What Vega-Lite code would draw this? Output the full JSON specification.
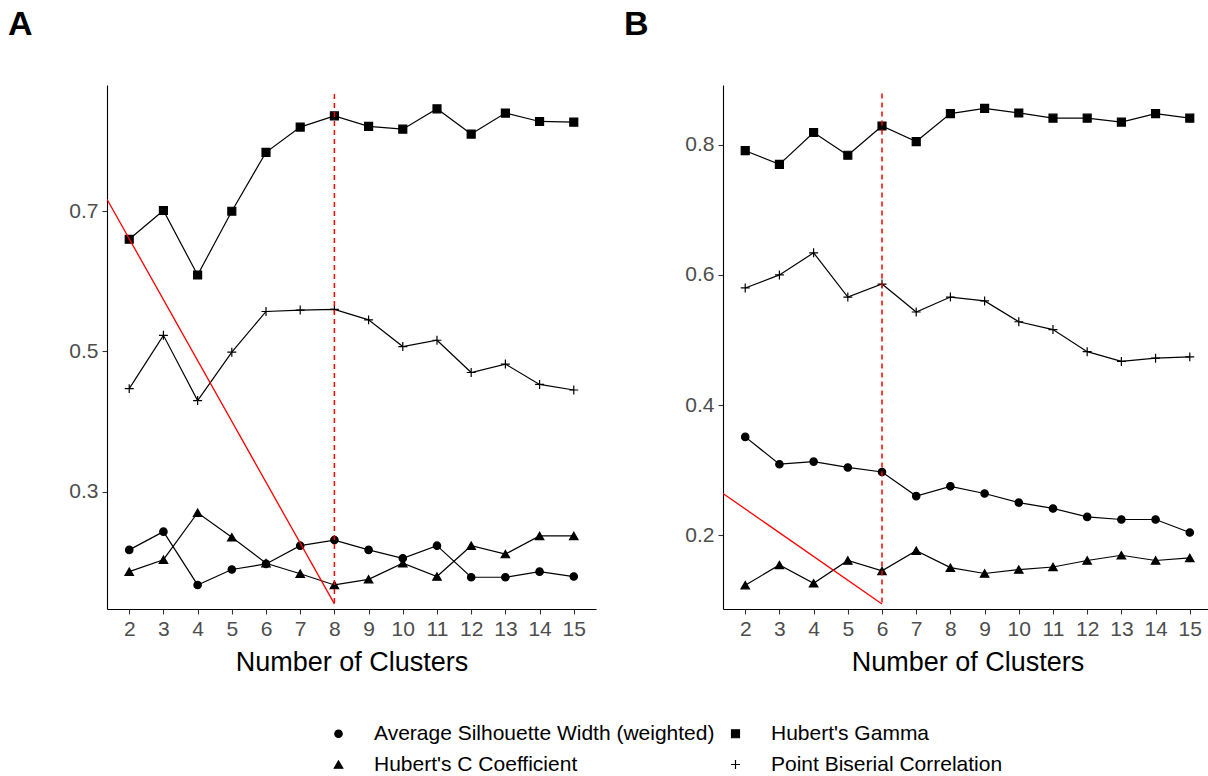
{
  "$schema": "https://vega.github.io/schema/vega-lite/v6.json",
  "padding": {"left": 8, "top": 8, "right": 0, "bottom": 0},
  "background": "white",
  "config": {
    "font": "Liberation Sans",
    "view": {"stroke": null},
    "axis": {"domainColor": "black", "domainWidth": 1.1, "tickColor": "#333333", "tickWidth": 1.1, "tickSize": 5, "labelColor": "#4d4d4d", "labelFontSize": 21, "labelFont": "Liberation Sans", "titleFont": "Liberation Sans", "titleFontSize": 27, "titleFontWeight": "normal", "titleColor": "black", "grid": false, "labelPadding": 4, "titlePadding": 10, "labelOverlap": false},
    "legend": {"labelFontSize": 21, "labelFont": "Liberation Sans", "labelColor": "black", "labelLimit": 600, "symbolStrokeColor": "black", "symbolStrokeWidth": 1.2, "columns": 2, "labelOffset": 25, "columnPadding": 10, "rowPadding": 9, "padding": 0},
    "title": {"font": "Liberation Sans"}
  },
  "datasets": {
    "A": [
      {"k": 2, "metric": "Hubert's Gamma", "value": 0.660},
      {"k": 3, "metric": "Hubert's Gamma", "value": 0.701},
      {"k": 4, "metric": "Hubert's Gamma", "value": 0.609},
      {"k": 5, "metric": "Hubert's Gamma", "value": 0.700},
      {"k": 6, "metric": "Hubert's Gamma", "value": 0.784},
      {"k": 7, "metric": "Hubert's Gamma", "value": 0.820},
      {"k": 8, "metric": "Hubert's Gamma", "value": 0.836},
      {"k": 9, "metric": "Hubert's Gamma", "value": 0.821},
      {"k": 10, "metric": "Hubert's Gamma", "value": 0.817},
      {"k": 11, "metric": "Hubert's Gamma", "value": 0.846},
      {"k": 12, "metric": "Hubert's Gamma", "value": 0.810},
      {"k": 13, "metric": "Hubert's Gamma", "value": 0.840},
      {"k": 14, "metric": "Hubert's Gamma", "value": 0.828},
      {"k": 15, "metric": "Hubert's Gamma", "value": 0.827},
      {"k": 2, "metric": "Point Biserial Correlation", "value": 0.447},
      {"k": 3, "metric": "Point Biserial Correlation", "value": 0.523},
      {"k": 4, "metric": "Point Biserial Correlation", "value": 0.430},
      {"k": 5, "metric": "Point Biserial Correlation", "value": 0.499},
      {"k": 6, "metric": "Point Biserial Correlation", "value": 0.557},
      {"k": 7, "metric": "Point Biserial Correlation", "value": 0.559},
      {"k": 8, "metric": "Point Biserial Correlation", "value": 0.560},
      {"k": 9, "metric": "Point Biserial Correlation", "value": 0.545},
      {"k": 10, "metric": "Point Biserial Correlation", "value": 0.507},
      {"k": 11, "metric": "Point Biserial Correlation", "value": 0.516},
      {"k": 12, "metric": "Point Biserial Correlation", "value": 0.470},
      {"k": 13, "metric": "Point Biserial Correlation", "value": 0.482},
      {"k": 14, "metric": "Point Biserial Correlation", "value": 0.453},
      {"k": 15, "metric": "Point Biserial Correlation", "value": 0.445},
      {"k": 2, "metric": "Average Silhouette Width (weighted)", "value": 0.217},
      {"k": 3, "metric": "Average Silhouette Width (weighted)", "value": 0.243},
      {"k": 4, "metric": "Average Silhouette Width (weighted)", "value": 0.167},
      {"k": 5, "metric": "Average Silhouette Width (weighted)", "value": 0.189},
      {"k": 6, "metric": "Average Silhouette Width (weighted)", "value": 0.197},
      {"k": 7, "metric": "Average Silhouette Width (weighted)", "value": 0.223},
      {"k": 8, "metric": "Average Silhouette Width (weighted)", "value": 0.231},
      {"k": 9, "metric": "Average Silhouette Width (weighted)", "value": 0.217},
      {"k": 10, "metric": "Average Silhouette Width (weighted)", "value": 0.205},
      {"k": 11, "metric": "Average Silhouette Width (weighted)", "value": 0.223},
      {"k": 12, "metric": "Average Silhouette Width (weighted)", "value": 0.178},
      {"k": 13, "metric": "Average Silhouette Width (weighted)", "value": 0.178},
      {"k": 14, "metric": "Average Silhouette Width (weighted)", "value": 0.186},
      {"k": 15, "metric": "Average Silhouette Width (weighted)", "value": 0.179},
      {"k": 2, "metric": "Hubert's C Coefficient", "value": 0.186},
      {"k": 3, "metric": "Hubert's C Coefficient", "value": 0.203},
      {"k": 4, "metric": "Hubert's C Coefficient", "value": 0.270},
      {"k": 5, "metric": "Hubert's C Coefficient", "value": 0.235},
      {"k": 6, "metric": "Hubert's C Coefficient", "value": 0.198},
      {"k": 7, "metric": "Hubert's C Coefficient", "value": 0.183},
      {"k": 8, "metric": "Hubert's C Coefficient", "value": 0.167},
      {"k": 9, "metric": "Hubert's C Coefficient", "value": 0.175},
      {"k": 10, "metric": "Hubert's C Coefficient", "value": 0.198},
      {"k": 11, "metric": "Hubert's C Coefficient", "value": 0.179},
      {"k": 12, "metric": "Hubert's C Coefficient", "value": 0.223},
      {"k": 13, "metric": "Hubert's C Coefficient", "value": 0.211},
      {"k": 14, "metric": "Hubert's C Coefficient", "value": 0.237},
      {"k": 15, "metric": "Hubert's C Coefficient", "value": 0.237}
    ],
    "B": [
      {"k": 2, "metric": "Hubert's Gamma", "value": 0.791},
      {"k": 3, "metric": "Hubert's Gamma", "value": 0.770},
      {"k": 4, "metric": "Hubert's Gamma", "value": 0.819},
      {"k": 5, "metric": "Hubert's Gamma", "value": 0.784},
      {"k": 6, "metric": "Hubert's Gamma", "value": 0.829},
      {"k": 7, "metric": "Hubert's Gamma", "value": 0.805},
      {"k": 8, "metric": "Hubert's Gamma", "value": 0.848},
      {"k": 9, "metric": "Hubert's Gamma", "value": 0.856},
      {"k": 10, "metric": "Hubert's Gamma", "value": 0.849},
      {"k": 11, "metric": "Hubert's Gamma", "value": 0.841},
      {"k": 12, "metric": "Hubert's Gamma", "value": 0.841},
      {"k": 13, "metric": "Hubert's Gamma", "value": 0.835},
      {"k": 14, "metric": "Hubert's Gamma", "value": 0.848},
      {"k": 15, "metric": "Hubert's Gamma", "value": 0.841},
      {"k": 2, "metric": "Point Biserial Correlation", "value": 0.580},
      {"k": 3, "metric": "Point Biserial Correlation", "value": 0.600},
      {"k": 4, "metric": "Point Biserial Correlation", "value": 0.634},
      {"k": 5, "metric": "Point Biserial Correlation", "value": 0.566},
      {"k": 6, "metric": "Point Biserial Correlation", "value": 0.586},
      {"k": 7, "metric": "Point Biserial Correlation", "value": 0.543},
      {"k": 8, "metric": "Point Biserial Correlation", "value": 0.566},
      {"k": 9, "metric": "Point Biserial Correlation", "value": 0.560},
      {"k": 10, "metric": "Point Biserial Correlation", "value": 0.528},
      {"k": 11, "metric": "Point Biserial Correlation", "value": 0.516},
      {"k": 12, "metric": "Point Biserial Correlation", "value": 0.482},
      {"k": 13, "metric": "Point Biserial Correlation", "value": 0.467},
      {"k": 14, "metric": "Point Biserial Correlation", "value": 0.472},
      {"k": 15, "metric": "Point Biserial Correlation", "value": 0.474},
      {"k": 2, "metric": "Average Silhouette Width (weighted)", "value": 0.351},
      {"k": 3, "metric": "Average Silhouette Width (weighted)", "value": 0.309},
      {"k": 4, "metric": "Average Silhouette Width (weighted)", "value": 0.313},
      {"k": 5, "metric": "Average Silhouette Width (weighted)", "value": 0.304},
      {"k": 6, "metric": "Average Silhouette Width (weighted)", "value": 0.297},
      {"k": 7, "metric": "Average Silhouette Width (weighted)", "value": 0.260},
      {"k": 8, "metric": "Average Silhouette Width (weighted)", "value": 0.275},
      {"k": 9, "metric": "Average Silhouette Width (weighted)", "value": 0.264},
      {"k": 10, "metric": "Average Silhouette Width (weighted)", "value": 0.250},
      {"k": 11, "metric": "Average Silhouette Width (weighted)", "value": 0.241},
      {"k": 12, "metric": "Average Silhouette Width (weighted)", "value": 0.228},
      {"k": 13, "metric": "Average Silhouette Width (weighted)", "value": 0.224},
      {"k": 14, "metric": "Average Silhouette Width (weighted)", "value": 0.224},
      {"k": 15, "metric": "Average Silhouette Width (weighted)", "value": 0.204},
      {"k": 2, "metric": "Hubert's C Coefficient", "value": 0.123},
      {"k": 3, "metric": "Hubert's C Coefficient", "value": 0.154},
      {"k": 4, "metric": "Hubert's C Coefficient", "value": 0.126},
      {"k": 5, "metric": "Hubert's C Coefficient", "value": 0.161},
      {"k": 6, "metric": "Hubert's C Coefficient", "value": 0.145},
      {"k": 7, "metric": "Hubert's C Coefficient", "value": 0.176},
      {"k": 8, "metric": "Hubert's C Coefficient", "value": 0.150},
      {"k": 9, "metric": "Hubert's C Coefficient", "value": 0.141},
      {"k": 10, "metric": "Hubert's C Coefficient", "value": 0.147},
      {"k": 11, "metric": "Hubert's C Coefficient", "value": 0.151},
      {"k": 12, "metric": "Hubert's C Coefficient", "value": 0.161},
      {"k": 13, "metric": "Hubert's C Coefficient", "value": 0.169},
      {"k": 14, "metric": "Hubert's C Coefficient", "value": 0.161},
      {"k": 15, "metric": "Hubert's C Coefficient", "value": 0.165}
    ],
    "trendA": [{"k": 1.35, "value": 0.717}, {"k": 8, "value": 0.140}],
    "trendB": [{"k": 1.35, "value": 0.264}, {"k": 6, "value": 0.094}],
    "cutA": [{"k": 8, "top": 0.867, "bottom": 0.140}],
    "cutB": [{"k": 6, "top": 0.879, "bottom": 0.094}]
  },
  "spacing": 28,
  "resolve": {"scale": {"x": "independent", "y": "independent", "shape": "shared", "fill": "shared", "size": "shared", "stroke": "shared"}},
  "hconcat": [
    {
      "title": {"text": "A", "anchor": "start", "frame": "group", "dx": -99, "fontSize": 34, "fontWeight": "bold", "color": "black", "offset": 9, "baseline": "bottom"},
      "width": 489,
      "height": 524,
      "layer": [
        {
          "data": {"name": "A"},
          "mark": {"type": "line", "color": "black", "strokeWidth": 1.2},
          "encoding": {
            "x": {"field": "k", "type": "quantitative", "scale": {"domain": [1.35, 15.65], "nice": false, "zero": false}, "axis": {"values": [2,3,4,5,6,7,8,9,10,11,12,13,14,15], "tickCount": 14, "format": "d", "title": "Number of Clusters", "labelFlush": false, "labelOverlap": false}},
            "y": {"field": "value", "type": "quantitative", "scale": {"domain": [0.1327, 0.88], "nice": false, "zero": false}, "axis": {"values": [0.3, 0.5, 0.7], "format": ".1f", "title": null}},
            "detail": {"field": "metric", "type": "nominal"}
          }
        },
        {
          "data": {"name": "A"},
          "mark": {"type": "point", "strokeWidth": 1.2, "opacity": 1},
          "encoding": {
            "x": {"field": "k", "type": "quantitative", "axis": {"values": [2,3,4,5,6,7,8,9,10,11,12,13,14,15], "tickCount": 14, "format": "d", "title": "Number of Clusters", "labelFlush": false, "labelOverlap": false}},
            "y": {"field": "value", "type": "quantitative", "axis": {"values": [0.3, 0.5, 0.7], "format": ".1f", "title": null}},
            "shape": {"field": "metric", "type": "nominal", "scale": {"domain": ["Average Silhouette Width (weighted)", "Hubert's Gamma", "Hubert's C Coefficient", "Point Biserial Correlation"], "range": ["circle", "square", "triangle-up", "M-1,0L1,0M0,-1L0,1"]}, "legend": {"title": null, "orient": "none", "legendX": 221, "legendY": 638, "values": ["Average Silhouette Width (weighted)", "Hubert's C Coefficient", "Hubert's Gamma", "Point Biserial Correlation"]}},
            "fill": {"field": "metric", "type": "nominal", "scale": {"domain": ["Average Silhouette Width (weighted)", "Hubert's Gamma", "Hubert's C Coefficient", "Point Biserial Correlation"], "range": ["black", "black", "black", "transparent"]}, "legend": {"title": null, "orient": "none", "legendX": 221, "legendY": 638, "values": ["Average Silhouette Width (weighted)", "Hubert's C Coefficient", "Hubert's Gamma", "Point Biserial Correlation"]}},
            "stroke": {"field": "metric", "type": "nominal", "scale": {"domain": ["Average Silhouette Width (weighted)", "Hubert's Gamma", "Hubert's C Coefficient", "Point Biserial Correlation"], "range": ["black", "black", "black", "black"]}, "legend": {"title": null, "orient": "none", "legendX": 221, "legendY": 638, "values": ["Average Silhouette Width (weighted)", "Hubert's C Coefficient", "Hubert's Gamma", "Point Biserial Correlation"]}},
            "size": {"field": "metric", "type": "nominal", "scale": {"domain": ["Average Silhouette Width (weighted)", "Hubert's Gamma", "Hubert's C Coefficient", "Point Biserial Correlation"], "range": [55, 80, 75, 170]}, "legend": {"title": null, "orient": "none", "legendX": 221, "legendY": 638, "values": ["Average Silhouette Width (weighted)", "Hubert's C Coefficient", "Hubert's Gamma", "Point Biserial Correlation"]}}
          }
        },
        {
          "data": {"name": "trendA"},
          "mark": {"type": "line", "color": "red", "strokeWidth": 1.3, "clip": true},
          "encoding": {"x": {"field": "k", "type": "quantitative", "axis": {"values": [2,3,4,5,6,7,8,9,10,11,12,13,14,15], "tickCount": 14, "format": "d", "title": "Number of Clusters", "labelFlush": false, "labelOverlap": false}}, "y": {"field": "value", "type": "quantitative", "axis": {"values": [0.3, 0.5, 0.7], "format": ".1f", "title": null}}}
        },
        {
          "data": {"name": "cutA"},
          "mark": {"type": "rule", "color": "red", "strokeDash": [5, 4], "strokeWidth": 1.5},
          "encoding": {"x": {"field": "k", "type": "quantitative", "axis": {"values": [2,3,4,5,6,7,8,9,10,11,12,13,14,15], "tickCount": 14, "format": "d", "title": "Number of Clusters", "labelFlush": false, "labelOverlap": false}}, "y": {"field": "top", "type": "quantitative", "axis": {"values": [0.3, 0.5, 0.7], "format": ".1f", "title": null}}, "y2": {"field": "bottom"}}
        }
      ]
    },
    {
      "title": {"text": "B", "anchor": "start", "frame": "group", "dx": -99, "fontSize": 34, "fontWeight": "bold", "color": "black", "offset": 9, "baseline": "bottom"},
      "width": 489,
      "height": 524,
      "layer": [
        {
          "data": {"name": "B"},
          "mark": {"type": "line", "color": "black", "strokeWidth": 1.2},
          "encoding": {
            "x": {"field": "k", "type": "quantitative", "scale": {"domain": [1.35, 15.65], "nice": false, "zero": false}, "axis": {"values": [2,3,4,5,6,7,8,9,10,11,12,13,14,15], "tickCount": 14, "format": "d", "title": "Number of Clusters", "labelFlush": false, "labelOverlap": false}},
            "y": {"field": "value", "type": "quantitative", "scale": {"domain": [0.0864, 0.892], "nice": false, "zero": false}, "axis": {"values": [0.2, 0.4, 0.6, 0.8], "format": ".1f", "title": null}},
            "detail": {"field": "metric", "type": "nominal"}
          }
        },
        {
          "data": {"name": "B"},
          "mark": {"type": "point", "strokeWidth": 1.2, "opacity": 1},
          "encoding": {
            "x": {"field": "k", "type": "quantitative", "axis": {"values": [2,3,4,5,6,7,8,9,10,11,12,13,14,15], "tickCount": 14, "format": "d", "title": "Number of Clusters", "labelFlush": false, "labelOverlap": false}},
            "y": {"field": "value", "type": "quantitative", "axis": {"values": [0.2, 0.4, 0.6, 0.8], "format": ".1f", "title": null}},
            "shape": {"field": "metric", "type": "nominal", "scale": {"domain": ["Average Silhouette Width (weighted)", "Hubert's Gamma", "Hubert's C Coefficient", "Point Biserial Correlation"], "range": ["circle", "square", "triangle-up", "M-1,0L1,0M0,-1L0,1"]}, "legend": {"title": null, "orient": "none", "legendX": 221, "legendY": 638, "values": ["Average Silhouette Width (weighted)", "Hubert's C Coefficient", "Hubert's Gamma", "Point Biserial Correlation"]}},
            "fill": {"field": "metric", "type": "nominal", "scale": {"domain": ["Average Silhouette Width (weighted)", "Hubert's Gamma", "Hubert's C Coefficient", "Point Biserial Correlation"], "range": ["black", "black", "black", "transparent"]}, "legend": {"title": null, "orient": "none", "legendX": 221, "legendY": 638, "values": ["Average Silhouette Width (weighted)", "Hubert's C Coefficient", "Hubert's Gamma", "Point Biserial Correlation"]}},
            "stroke": {"field": "metric", "type": "nominal", "scale": {"domain": ["Average Silhouette Width (weighted)", "Hubert's Gamma", "Hubert's C Coefficient", "Point Biserial Correlation"], "range": ["black", "black", "black", "black"]}, "legend": {"title": null, "orient": "none", "legendX": 221, "legendY": 638, "values": ["Average Silhouette Width (weighted)", "Hubert's C Coefficient", "Hubert's Gamma", "Point Biserial Correlation"]}},
            "size": {"field": "metric", "type": "nominal", "scale": {"domain": ["Average Silhouette Width (weighted)", "Hubert's Gamma", "Hubert's C Coefficient", "Point Biserial Correlation"], "range": [55, 80, 75, 170]}, "legend": {"title": null, "orient": "none", "legendX": 221, "legendY": 638, "values": ["Average Silhouette Width (weighted)", "Hubert's C Coefficient", "Hubert's Gamma", "Point Biserial Correlation"]}}
          }
        },
        {
          "data": {"name": "trendB"},
          "mark": {"type": "line", "color": "red", "strokeWidth": 1.3, "clip": true},
          "encoding": {"x": {"field": "k", "type": "quantitative", "axis": {"values": [2,3,4,5,6,7,8,9,10,11,12,13,14,15], "tickCount": 14, "format": "d", "title": "Number of Clusters", "labelFlush": false, "labelOverlap": false}}, "y": {"field": "value", "type": "quantitative", "axis": {"values": [0.2, 0.4, 0.6, 0.8], "format": ".1f", "title": null}}}
        },
        {
          "data": {"name": "cutB"},
          "mark": {"type": "rule", "color": "red", "strokeDash": [5, 4], "strokeWidth": 1.5},
          "encoding": {"x": {"field": "k", "type": "quantitative", "axis": {"values": [2,3,4,5,6,7,8,9,10,11,12,13,14,15], "tickCount": 14, "format": "d", "title": "Number of Clusters", "labelFlush": false, "labelOverlap": false}}, "y": {"field": "top", "type": "quantitative", "axis": {"values": [0.2, 0.4, 0.6, 0.8], "format": ".1f", "title": null}}, "y2": {"field": "bottom"}}
        }
      ]
    }
  ]
}
